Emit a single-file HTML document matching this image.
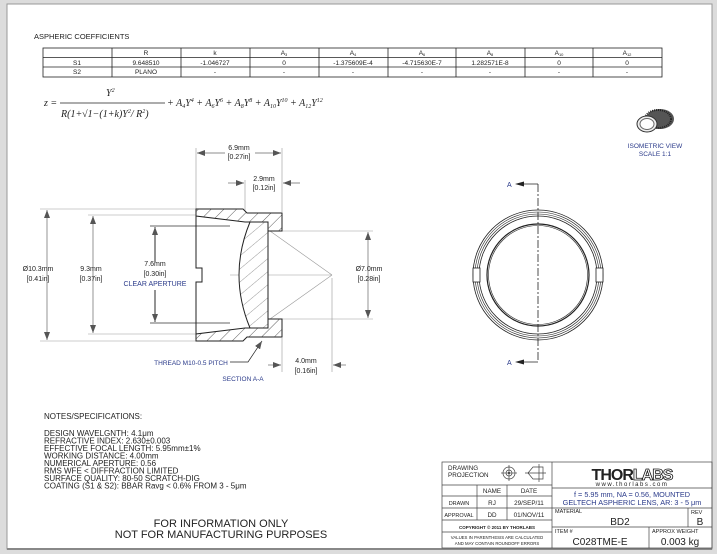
<!DOCTYPE html>
<html><head><meta charset="utf-8"><style>
body{margin:0;width:717px;height:554px;background:#d9d9d9;overflow:hidden}
svg{display:block}
text{font-family:"Liberation Sans",sans-serif;fill:#222}
.b{fill:#2a3a8a}
</style></head><body>
<svg width="717" height="554" viewBox="0 0 717 554" xmlns="http://www.w3.org/2000/svg">
<defs>
<pattern id="h" width="9" height="9" patternUnits="userSpaceOnUse" patternTransform="rotate(45)">
<rect width="9" height="9" fill="#fff"/><line x1="0" y1="0" x2="0" y2="9" stroke="#333" stroke-width="0.8"/></pattern>
<pattern id="h2" width="10" height="10" patternUnits="userSpaceOnUse" patternTransform="rotate(50)">
<rect width="10" height="10" fill="#fff"/><line x1="0" y1="0" x2="0" y2="10" stroke="#555" stroke-width="0.6"/></pattern>
<marker id="a" markerWidth="8" markerHeight="6" refX="8" refY="3" orient="auto" markerUnits="userSpaceOnUse"><path d="M0,0 L8,3 L0,6z" fill="#555"/></marker>
</defs>
<rect x="0" y="0" width="717" height="554" fill="#dcdcdc"/>
<rect x="7" y="4" width="705" height="545" fill="#fff" stroke="#999" stroke-width="1"/>
<line x1="7" y1="549" x2="712" y2="549" stroke="#888" stroke-width="2"/>

<text x="34" y="39" font-size="7.5">ASPHERIC COEFFICIENTS</text>
<g stroke="#222" stroke-width="0.8" fill="none">
<rect x="43" y="48" width="619" height="29"/>
<line x1="43" y1="57.5" x2="662" y2="57.5"/><line x1="43" y1="67" x2="662" y2="67"/>
<line x1="112" y1="48" x2="112" y2="77"/><line x1="181" y1="48" x2="181" y2="77"/><line x1="250" y1="48" x2="250" y2="77"/><line x1="319" y1="48" x2="319" y2="77"/><line x1="388" y1="48" x2="388" y2="77"/><line x1="456" y1="48" x2="456" y2="77"/><line x1="525" y1="48" x2="525" y2="77"/><line x1="593" y1="48" x2="593" y2="77"/>
</g>
<g font-size="6.5" text-anchor="middle">
<text x="146" y="55">R</text><text x="215" y="55">k</text><text x="284" y="55">A<tspan font-size="4" dy="1">3</tspan></text><text x="353" y="55">A<tspan font-size="4" dy="1">4</tspan></text><text x="422" y="55">A<tspan font-size="4" dy="1">6</tspan></text><text x="490" y="55">A<tspan font-size="4" dy="1">8</tspan></text><text x="559" y="55">A<tspan font-size="4" dy="1">10</tspan></text><text x="627" y="55">A<tspan font-size="4" dy="1">12</tspan></text>
<text x="77" y="65">S1</text><text x="146" y="65">9.648510</text><text x="215" y="65">-1.046727</text><text x="284" y="65">0</text><text x="353" y="65">-1.375609E-4</text><text x="422" y="65">-4.715630E-7</text><text x="490" y="65">1.282571E-8</text><text x="559" y="65">0</text><text x="627" y="65">0</text>
<text x="77" y="74">S2</text><text x="146" y="74">PLANO</text><text x="215" y="74">-</text><text x="284" y="74">-</text><text x="353" y="74">-</text><text x="422" y="74">-</text><text x="490" y="74">-</text><text x="559" y="74">-</text><text x="627" y="74">-</text>
</g>
<g font-style="italic" font-size="10">
<text x="44" y="106" style="font-family:'Liberation Serif',serif">z =</text>
<text x="106" y="96" style="font-family:'Liberation Serif',serif">Y<tspan font-size="6" dy="-4">2</tspan></text>
<text x="61" y="117" style="font-family:'Liberation Serif',serif">R(1+√1−(1+k)Y<tspan font-size="6" dy="-4">2</tspan><tspan dy="4">/ R</tspan><tspan font-size="6" dy="-4">2</tspan><tspan dy="4">)</tspan></text>
<text x="167" y="106" style="font-family:'Liberation Serif',serif">+ A<tspan font-size="6" dy="2">4</tspan><tspan dy="-2">Y</tspan><tspan font-size="6" dy="-4">4</tspan><tspan dy="4"> + A</tspan><tspan font-size="6" dy="2">6</tspan><tspan dy="-2">Y</tspan><tspan font-size="6" dy="-4">6</tspan><tspan dy="4"> + A</tspan><tspan font-size="6" dy="2">8</tspan><tspan dy="-2">Y</tspan><tspan font-size="6" dy="-4">8</tspan><tspan dy="4"> + A</tspan><tspan font-size="6" dy="2">10</tspan><tspan dy="-2">Y</tspan><tspan font-size="6" dy="-4">10</tspan><tspan dy="4"> + A</tspan><tspan font-size="6" dy="2">12</tspan><tspan dy="-2">Y</tspan><tspan font-size="6" dy="-4">12</tspan></text>
</g>
<line x1="60" y1="103" x2="165" y2="103" stroke="#222" stroke-width="0.8"/>

<!-- isometric -->
<g>
<ellipse cx="660" cy="119" rx="14" ry="10" fill="#555"/>
<ellipse cx="658" cy="119" rx="13" ry="9" fill="none" stroke="#222" stroke-dasharray="1 1" stroke-width="2"/>
<ellipse cx="647" cy="124" rx="10" ry="8" fill="#eee" stroke="#333"/>
<ellipse cx="647" cy="124" rx="7" ry="5.5" fill="#fff" stroke="#666"/>
</g>
<text x="655" y="148" font-size="6.5" text-anchor="middle" class="b">ISOMETRIC VIEW</text>
<text x="655" y="156" font-size="6.5" text-anchor="middle" class="b">SCALE 1:1</text>

<!-- section -->
<g stroke="#999" stroke-width="0.6" fill="none">
<line x1="196" y1="148" x2="196" y2="209"/><line x1="282" y1="148" x2="282" y2="212"/><line x1="245" y1="180" x2="245" y2="212"/>
<line x1="40" y1="209" x2="196" y2="209"/><line x1="40" y1="341" x2="196" y2="341"/>
<line x1="88" y1="215" x2="200" y2="215"/><line x1="88" y1="334" x2="200" y2="334"/>
<line x1="282" y1="231" x2="373" y2="231"/><line x1="282" y1="319" x2="373" y2="319"/>
<line x1="282" y1="338" x2="282" y2="372"/><line x1="332" y1="278" x2="332" y2="372"/>
<line x1="230" y1="275" x2="332" y2="275"/>
<line x1="270" y1="231" x2="332" y2="275"/><line x1="270" y1="319" x2="332" y2="275"/>
</g>
<g stroke="#333" stroke-width="0.8" fill="none">
<line x1="150" y1="226" x2="230" y2="226"/><line x1="150" y1="323" x2="230" y2="323"/>
</g>
<g stroke="#666" stroke-width="0.7" fill="none" marker-end="url(#a)">
<line x1="47" y1="275" x2="47" y2="210"/><line x1="47" y1="275" x2="47" y2="340"/>
<line x1="93" y1="275" x2="93" y2="216"/><line x1="93" y1="275" x2="93" y2="333"/>
<line x1="368" y1="275" x2="368" y2="232"/><line x1="368" y1="275" x2="368" y2="318"/>
<line x1="225" y1="153" x2="197" y2="153"/><line x1="255" y1="153" x2="281" y2="153"/>
<line x1="228" y1="183" x2="244" y2="183"/><line x1="300" y1="183" x2="283" y2="183"/>
<line x1="268" y1="365" x2="281" y2="365"/><line x1="346" y1="365" x2="333" y2="365"/>
</g>
<g stroke="#111" stroke-width="0.9" marker-end="url(#a)"><line x1="155" y1="262" x2="155" y2="227"/><line x1="155" y1="290" x2="155" y2="322"/></g>
<path d="M196,209 L243,209 L247,213 L282,213 L282,231 L268,231 L268,222 L245,222 L196,216 Z" fill="url(#h)" stroke="#222" stroke-width="1"/>
<path d="M196,341 L243,341 L247,337 L282,337 L282,319 L268,319 L268,328 L245,328 L196,334 Z" fill="url(#h)" stroke="#222" stroke-width="1"/>
<path d="M250,222 Q228,275 250,328 L268,328 L268,222 Z" fill="url(#h2)" stroke="#222" stroke-width="1"/>
<path d="M196,209 L196,268 L202,268 L202,282 L196,282 L196,341" fill="none" stroke="#222" stroke-width="1"/>
<path d="M230,362 L248,362 L262,341" fill="none" stroke="#222" stroke-width="0.7" marker-end="url(#a)"/>
<g font-size="7" text-anchor="middle">
<text x="239" y="150" fill="#888">6.9mm</text><text x="239" y="159" fill="#888">[0.27in]</text>
<text x="264" y="181" fill="#888">2.9mm</text><text x="264" y="190" fill="#888">[0.12in]</text>
<text x="38" y="271" fill="#888">Ø10.3mm</text><text x="38" y="281" fill="#888">[0.41in]</text>
<text x="91" y="271" fill="#888">9.3mm</text><text x="91" y="281" fill="#888">[0.37in]</text>
<text x="155" y="266">7.6mm</text><text x="155" y="276">[0.30in]</text><text x="155" y="286" class="b">CLEAR APERTURE</text>
<text x="369" y="271" fill="#888">Ø7.0mm</text><text x="369" y="281" fill="#888">[0.28in]</text>
<text x="306" y="363">4.0mm</text><text x="306" y="373">[0.16in]</text>
<text x="191" y="365" class="b" font-size="6.5">THREAD M10-0.5 PITCH</text>
<text x="243" y="381" class="b" font-size="6.5">SECTION A-A</text>
</g>

<!-- front view -->
<g fill="none" stroke="#222">
<circle cx="538" cy="275" r="65" stroke-width="0.8"/><circle cx="538" cy="275" r="63" stroke-width="0.6"/><circle cx="538" cy="275" r="61" stroke-width="0.6"/><circle cx="538" cy="275" r="59" stroke-width="0.8"/>
<circle cx="538" cy="275" r="51" stroke-width="1.2"/><circle cx="538" cy="275" r="49.5" stroke-width="0.6"/>
<rect x="473" y="268" width="7" height="14" fill="#fff" stroke-width="0.8"/><rect x="596" y="268" width="7" height="14" fill="#fff" stroke-width="0.8"/>
<line x1="538" y1="184" x2="538" y2="362" stroke-dasharray="8 2 2 2" stroke-width="0.8"/>
<path d="M538,184 L522,184 M538,362 L522,362" stroke-width="0.8"/>
</g>
<path d="M515,184 L524,181.5 L524,186.5Z M515,362 L524,359.5 L524,364.5Z" fill="#222"/>
<text x="507" y="187" font-size="7" class="b">A</text><text x="507" y="365" font-size="7" class="b">A</text>

<!-- notes -->
<g font-size="8" class="b">
<text x="44" y="419">NOTES/SPECIFICATIONS:</text>
<text x="44" y="436">DESIGN WAVELGNTH: 4.1μm</text>
<text x="44" y="443.5">REFRACTIVE INDEX: 2.630±0.003</text>
<text x="44" y="451">EFFECTIVE FOCAL LENGTH: 5.95mm±1%</text>
<text x="44" y="458.5">WORKING DISTANCE: 4.00mm</text>
<text x="44" y="466">NUMERICAL APERTURE: 0.56</text>
<text x="44" y="473.5">RMS WFE &lt; DIFFRACTION LIMITED</text>
<text x="44" y="481">SURFACE QUALITY: 80-50 SCRATCH-DIG</text>
<text x="44" y="488.5">COATING (S1 &amp; S2): BBAR Ravg &lt; 0.6% FROM 3 - 5μm</text>
</g>
<text x="221" y="527" font-size="11" text-anchor="middle">FOR INFORMATION ONLY</text>
<text x="221" y="538" font-size="11" text-anchor="middle">NOT FOR MANUFACTURING PURPOSES</text>

<!-- title block -->
<g stroke="#444" stroke-width="0.7" fill="none">
<rect x="442" y="462" width="270" height="86"/>
<line x1="552" y1="462" x2="552" y2="548"/>
<line x1="442" y1="485" x2="552" y2="485"/><line x1="442" y1="496" x2="552" y2="496"/><line x1="442" y1="508" x2="552" y2="508"/><line x1="442" y1="520" x2="552" y2="520"/><line x1="442" y1="532" x2="552" y2="532"/>
<line x1="477" y1="485" x2="477" y2="520"/><line x1="507" y1="485" x2="507" y2="520"/>
<line x1="552" y1="488" x2="712" y2="488"/><line x1="552" y1="508" x2="712" y2="508"/><line x1="552" y1="527" x2="712" y2="527"/>
<line x1="688" y1="508" x2="688" y2="527"/><line x1="649" y1="527" x2="649" y2="548"/>
<circle cx="509" cy="473" r="6"/><circle cx="509" cy="473" r="3"/><line x1="501" y1="473" x2="517" y2="473"/><line x1="509" y1="465" x2="509" y2="481"/>
<path d="M528,473 L533,467 L543,467 L543,479 L533,479 Z M539,464 L539,482 M525,473 L546,473" />
</g>
<circle cx="509" cy="473" r="1" fill="#222"/>
<g font-size="6.3" class="b">
<text x="448" y="470">DRAWING</text><text x="448" y="477">PROJECTION</text>
<text x="492" y="493" text-anchor="middle">NAME</text><text x="529" y="493" text-anchor="middle">DATE</text>
<text x="459" y="505" text-anchor="middle" font-size="5.5">DRAWN</text><text x="492" y="505" text-anchor="middle">RJ</text><text x="529" y="505" text-anchor="middle">29/SEP/11</text>
<text x="459" y="517" text-anchor="middle" font-size="5.5">APPROVAL</text><text x="492" y="517" text-anchor="middle">DD</text><text x="529" y="517" text-anchor="middle">01/NOV/11</text>
<text x="497" y="529" text-anchor="middle" font-size="4.5" font-weight="bold">COPYRIGHT © 2011 BY THORLABS</text>
<text x="497" y="539" text-anchor="middle" font-size="4.3">VALUES IN PARENTHESIS ARE CALCULATED</text>
<text x="497" y="545" text-anchor="middle" font-size="4.3">AND MAY CONTAIN ROUNDOFF ERRORS</text>
<text x="555" y="513" font-size="5.5">MATERIAL</text><text x="691" y="514" font-size="5.5">REV</text>
<text x="555" y="533" font-size="5.5">ITEM #</text><text x="652" y="533" font-size="5.5">APPROX WEIGHT</text>
</g>
<text x="632" y="480" font-size="16" font-weight="bold" text-anchor="middle" fill="#111" style="letter-spacing:-1px">THOR<tspan fill="#fff" stroke="#111" stroke-width="0.8">LABS</tspan></text>
<text x="632" y="486" font-size="6" text-anchor="middle" style="letter-spacing:1.5px">www.thorlabs.com</text>
<text x="632" y="497" font-size="7.3" text-anchor="middle" class="b">f = 5.95 mm, NA = 0.56, MOUNTED</text>
<text x="632" y="505" font-size="7.3" text-anchor="middle" class="b">GELTECH ASPHERIC LENS, AR: 3 - 5 μm</text>
<text x="620" y="525" font-size="10" text-anchor="middle" fill="#111">BD2</text>
<text x="700" y="525" font-size="10" text-anchor="middle" fill="#111">B</text>
<text x="600" y="545" font-size="10" text-anchor="middle" fill="#111">C028TME-E</text>
<text x="680" y="545" font-size="10" text-anchor="middle" fill="#111">0.003 kg</text>
</svg>
</body></html>
